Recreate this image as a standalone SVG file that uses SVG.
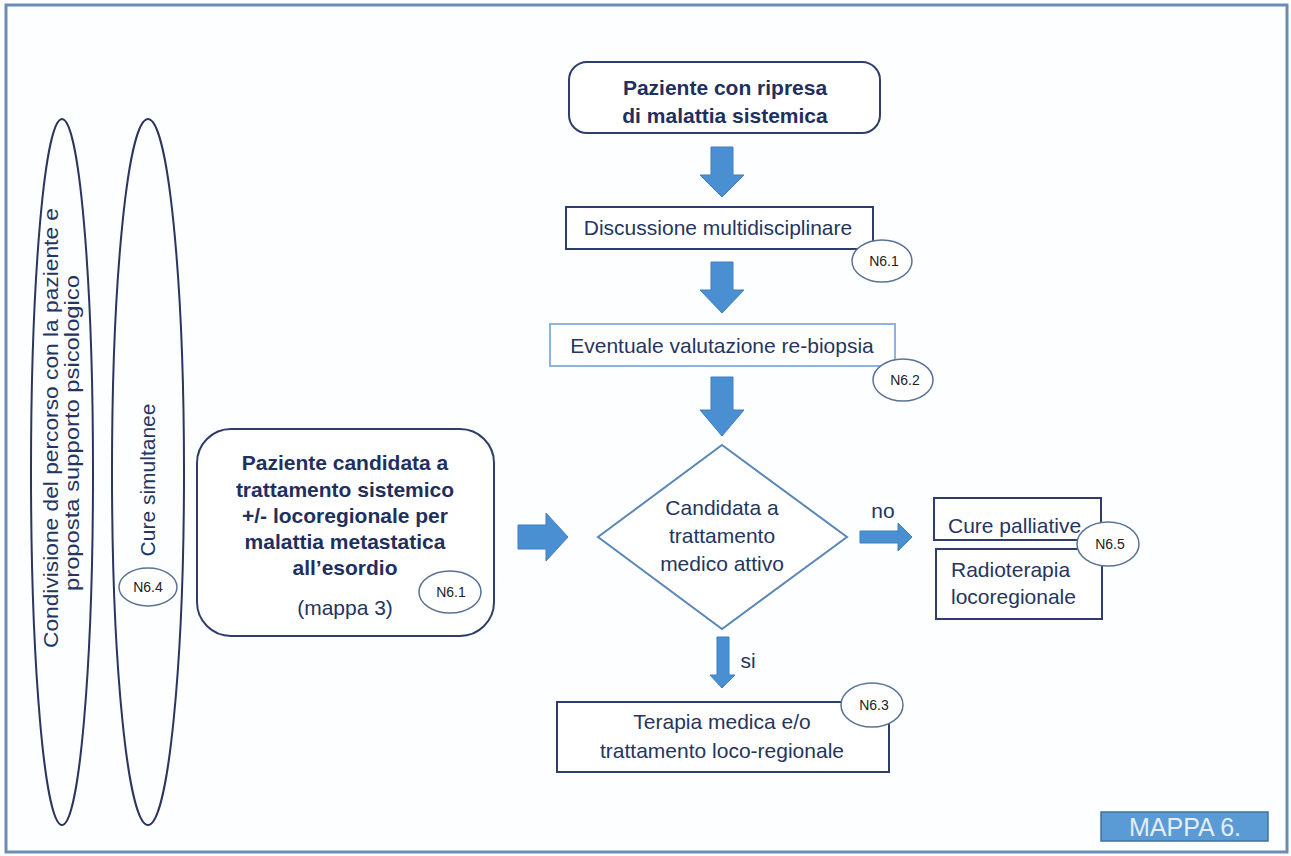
<svg xmlns="http://www.w3.org/2000/svg" width="1291" height="856" viewBox="0 0 1291 856">
<defs>
<style>
.frame{fill:#fdfeff;stroke:#6b8db5;stroke-width:3}
.ell{fill:none;stroke:#2a3560;stroke-width:2}
.box{fill:#fff;stroke:#2e3d6b;stroke-width:2}
.lbox{fill:#fff;stroke:#8fb4dc;stroke-width:2}
.dia{fill:#fff;stroke:#5b87b5;stroke-width:2}
.tag{fill:#fff;stroke:#5a7394;stroke-width:1.5}
.tagt{font-family:"Liberation Sans",Arial,sans-serif;font-size:14px;fill:#222;text-anchor:middle}
.t{font-family:"Liberation Sans",Arial,sans-serif;font-size:21px;fill:#253560;text-anchor:middle}
.b{font-family:"Liberation Sans",Arial,sans-serif;font-size:21px;font-weight:bold;fill:#1f2f5e;text-anchor:middle}
.arr{fill:#4b8fd3;stroke:#3f7fc0;stroke-width:1}
</style>
</defs>
<rect class="frame" x="6" y="5" width="1281" height="847"/>

<g id="ellipse-condivisione">
<ellipse class="ell" cx="62" cy="472" rx="31" ry="353"/>
<text class="t" font-size="20" transform="translate(58,428) rotate(-90)" textLength="440" lengthAdjust="spacingAndGlyphs">Condivisione  del percorso con la paziente e</text>
<text class="t" font-size="20" transform="translate(79,433) rotate(-90)" textLength="316" lengthAdjust="spacingAndGlyphs">proposta supporto psicologico</text>
</g>

<g id="ellipse-cure-simultanee">
<ellipse class="ell" cx="148" cy="472" rx="36" ry="353"/>
<text class="t" font-size="19" transform="translate(155,480) rotate(-90)">Cure simultanee</text>
<ellipse class="tag" cx="148" cy="587" rx="29" ry="19"/>
<text class="tagt" x="148" y="592">N6.4</text>
</g>

<g id="node-esordio">
<rect class="box" x="197" y="429" width="297" height="207" rx="34"/>
<text class="b" x="345" y="470">Paziente candidata a</text>
<text class="b" x="345" y="497">trattamento sistemico</text>
<text class="b" x="345" y="523">+/- locoregionale per</text>
<text class="b" x="345" y="549">malattia metastatica</text>
<text class="b" x="345" y="575">all’esordio</text>
<text class="t" x="345" y="615">(mappa 3)</text>
<ellipse class="tag" cx="450" cy="592" rx="31" ry="21"/>
<text class="tagt" x="451" y="597">N6.1</text>
</g>

<g id="node-ripresa">
<rect class="box" x="569" y="62" width="311" height="71" rx="18"/>
<text class="b" x="725" y="95">Paziente con ripresa</text>
<text class="b" x="725" y="123">di malattia sistemica</text>
</g>

<g id="node-discussione">
<rect class="box" x="566" y="207" width="307" height="42"/>
<text class="t" x="718" y="235">Discussione multidisciplinare</text>
<ellipse class="tag" cx="882" cy="261" rx="30" ry="21"/>
<text class="tagt" x="884" y="266">N6.1</text>
</g>

<g id="node-biopsia">
<rect class="lbox" x="550" y="324" width="345" height="42"/>
<text class="t" x="722" y="353">Eventuale valutazione re-biopsia</text>
<ellipse class="tag" cx="903" cy="380" rx="30" ry="21"/>
<text class="tagt" x="905" y="385">N6.2</text>
</g>

<g id="node-decisione">
<polygon class="dia" points="722,445 847,537 722,629 598,537"/>
<text class="t" x="722" y="515">Candidata a</text>
<text class="t" x="722" y="543">trattamento</text>
<text class="t" x="722" y="571">medico attivo</text>
</g>

<g id="node-palliative">
<rect class="box" x="934" y="498" width="167" height="42"/>
<text class="t" x="948" y="533" style="text-anchor:start">Cure palliative</text>
<rect class="box" x="936" y="549" width="166" height="70"/>
<text class="t" x="951" y="577" style="text-anchor:start">Radioterapia</text>
<text class="t" x="951" y="604" style="text-anchor:start">locoregionale</text>
<ellipse class="tag" cx="1108" cy="544" rx="31" ry="22"/>
<text class="tagt" x="1110" y="549">N6.5</text>
</g>

<g id="node-terapia">
<rect class="box" x="557" y="702" width="332" height="70"/>
<text class="t" x="722" y="729">Terapia medica e/o</text>
<text class="t" x="722" y="758">trattamento loco-regionale</text>
<ellipse class="tag" cx="872" cy="705" rx="31" ry="22"/>
<text class="tagt" x="874" y="710">N6.3</text>
</g>

<g id="connectors">
<polygon class="arr" points="711,147 733,147 733,175 744,175 722,197 700,175 711,175"/>
<polygon class="arr" points="711,262 733,262 733,290 744,290 722,313 700,290 711,290"/>
<polygon class="arr" points="711,377 733,377 733,410 744,410 722,436 700,410 711,410"/>
<polygon class="arr" points="717,637 729,637 729,675 735,675 722,688 710,675 717,675"/>
<polygon class="arr" points="518,525 546,525 546,513 568,537 546,561 546,549 518,549"/>
<polygon class="arr" points="860,531 898,531 898,523 912,537 898,551 898,543 860,543"/>
<text class="t" x="883" y="518">no</text>
<text class="t" x="748" y="668">si</text>
</g>

<g id="label-mappa">
<rect x="1101" y="812" width="167" height="29" fill="#5b9bd5" stroke="#41719c" stroke-width="1.5"/>
<text x="1185" y="836" font-family="Liberation Sans,Arial,sans-serif" font-size="25" fill="#e3eef9" text-anchor="middle">MAPPA 6.</text>
</g>
</svg>
